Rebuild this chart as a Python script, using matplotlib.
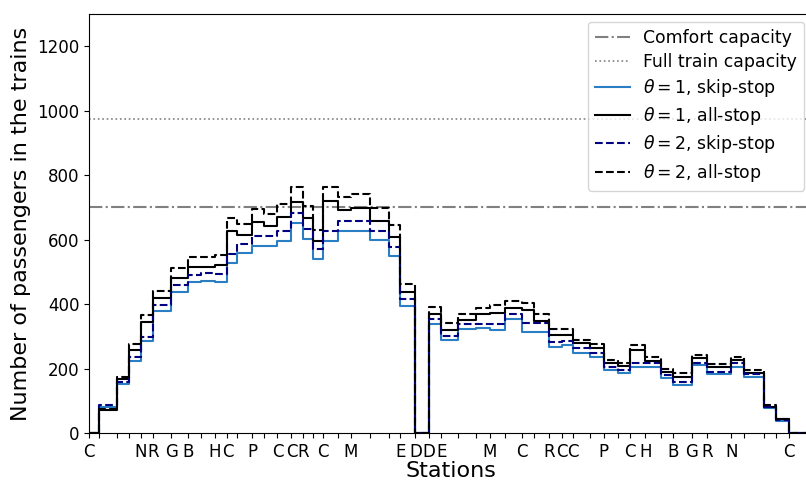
import matplotlib
matplotlib.use("Agg")
import matplotlib.pyplot as plt
import numpy as np

# Station positions (km along the line) and tick labels
station_km = [0.0, 1.0, 2.84, 4.0, 5.17, 6.4, 8.24, 9.9, 11.24, 12.57, 13.84, 14.8, 16.3, 17.5,
              18.84, 20.24, 21.4, 22.4, 23.4, 24.9, 26.17, 28.14, 29.97, 31.14, 32.64, 33.97,
              35.24, 36.9, 38.74, 40.07, 41.57, 43.3, 44.5, 46.0, 47.3, 48.4, 50.07, 51.47,
              52.87, 54.07, 55.64, 57.24, 58.4, 60.3, 61.8, 64.24, 65.5, 67.5, 68.74, 70.0]
station_labels = ['C', '', '', '', 'N', 'R', 'G', 'B', '', 'H', 'C', '', 'P', '', 'C', 'C', 'R', '',
                  'C', '', 'M', '', '', 'E', 'D', 'D', 'E', '', '', 'M', '', 'C', '', 'R', 'C', 'C',
                  '', 'P', '', 'C', 'H', '', 'B', 'G', 'R', 'N', '', '', '', 'C']

# Passengers in the trains on the segment starting at each station
theta1_skip = [0, 82, 151, 224, 285, 378, 436, 467, 471, 467, 528, 557, 581, 581, 596, 652, 602,
               540, 596, 626, 626, 600, 550, 395, 0, 338, 288, 322, 327, 319, 353, 314, 314, 268,
               273, 249, 237, 196, 187, 206, 204, 170, 149, 211, 182, 206, 175, 77, 38, 0]
theta1_all = [0, 70, 167, 259, 345, 418, 482, 514, 514, 521, 627, 614, 655, 642, 671, 718, 666,
              596, 719, 691, 699, 658, 609, 436, 0, 370, 319, 350, 368, 371, 387, 383, 348, 304,
              304, 278, 263, 217, 208, 259, 224, 190, 173, 232, 206, 226, 187, 82, 42, 0]
theta2_skip = [0, 86, 159, 235, 299, 397, 459, 490, 497, 493, 554, 585, 611, 611, 627, 684, 633,
               570, 626, 657, 657, 627, 578, 415, 0, 353, 301, 337, 337, 337, 369, 340, 340, 281,
               286, 263, 249, 205, 195, 216, 216, 180, 157, 218, 190, 218, 183, 80, 41, 0]
theta2_all = [0, 75, 175, 276, 366, 441, 511, 545, 545, 552, 666, 650, 694, 681, 710, 762, 704,
              629, 762, 733, 743, 697, 645, 461, 0, 392, 340, 369, 387, 397, 409, 404, 369, 322,
              322, 290, 275, 227, 218, 273, 237, 198, 185, 242, 213, 235, 195, 87, 43, 0]

comfort_capacity = 700
full_capacity = 975
x_end = 72.3

fig = plt.figure(figsize=(8.06, 4.82), dpi=100)
ax = fig.add_axes([89 / 806, 49 / 482, (812 - 89) / 806, (433 - 14) / 482])

x = np.array(station_km + [x_end])

def ext(v):
    return np.array(v + [v[-1]])

ax.axhline(comfort_capacity, color='gray', linestyle='-.', linewidth=1.5, label='Comfort capacity')
ax.axhline(full_capacity, color='gray', linestyle=':', linewidth=1.2, label='Full train capacity')
ax.step(x, ext(theta1_skip), where='post', color='#2a7fc4', linewidth=1.5,
        label=r'$\theta=1$, skip-stop')
ax.step(x, ext(theta1_all), where='post', color='black', linewidth=1.5,
        label=r'$\theta=1$, all-stop')
ax.step(x, ext(theta2_skip), where='post', color='navy', linestyle='--', linewidth=1.5,
        label=r'$\theta=2$, skip-stop')
ax.step(x, ext(theta2_all), where='post', color='black', linestyle='--', linewidth=1.5,
        label=r'$\theta=2$, all-stop')

ax.set_xlim(0, x_end)
ax.set_ylim(0, 1300)
ax.set_yticks([0, 200, 400, 600, 800, 1000, 1200])
ax.set_xticks(station_km)
ax.set_xticklabels(station_labels)
ax.tick_params(axis='both', labelsize=12)
ax.set_xlabel('Stations', fontsize=16, labelpad=0)
ax.set_ylabel('Number of passengers in the trains', fontsize=16)
ax.legend(loc='upper right', fontsize=12.4, labelspacing=0.36, borderaxespad=0.45)

fig.savefig('out.png', dpi=100)
